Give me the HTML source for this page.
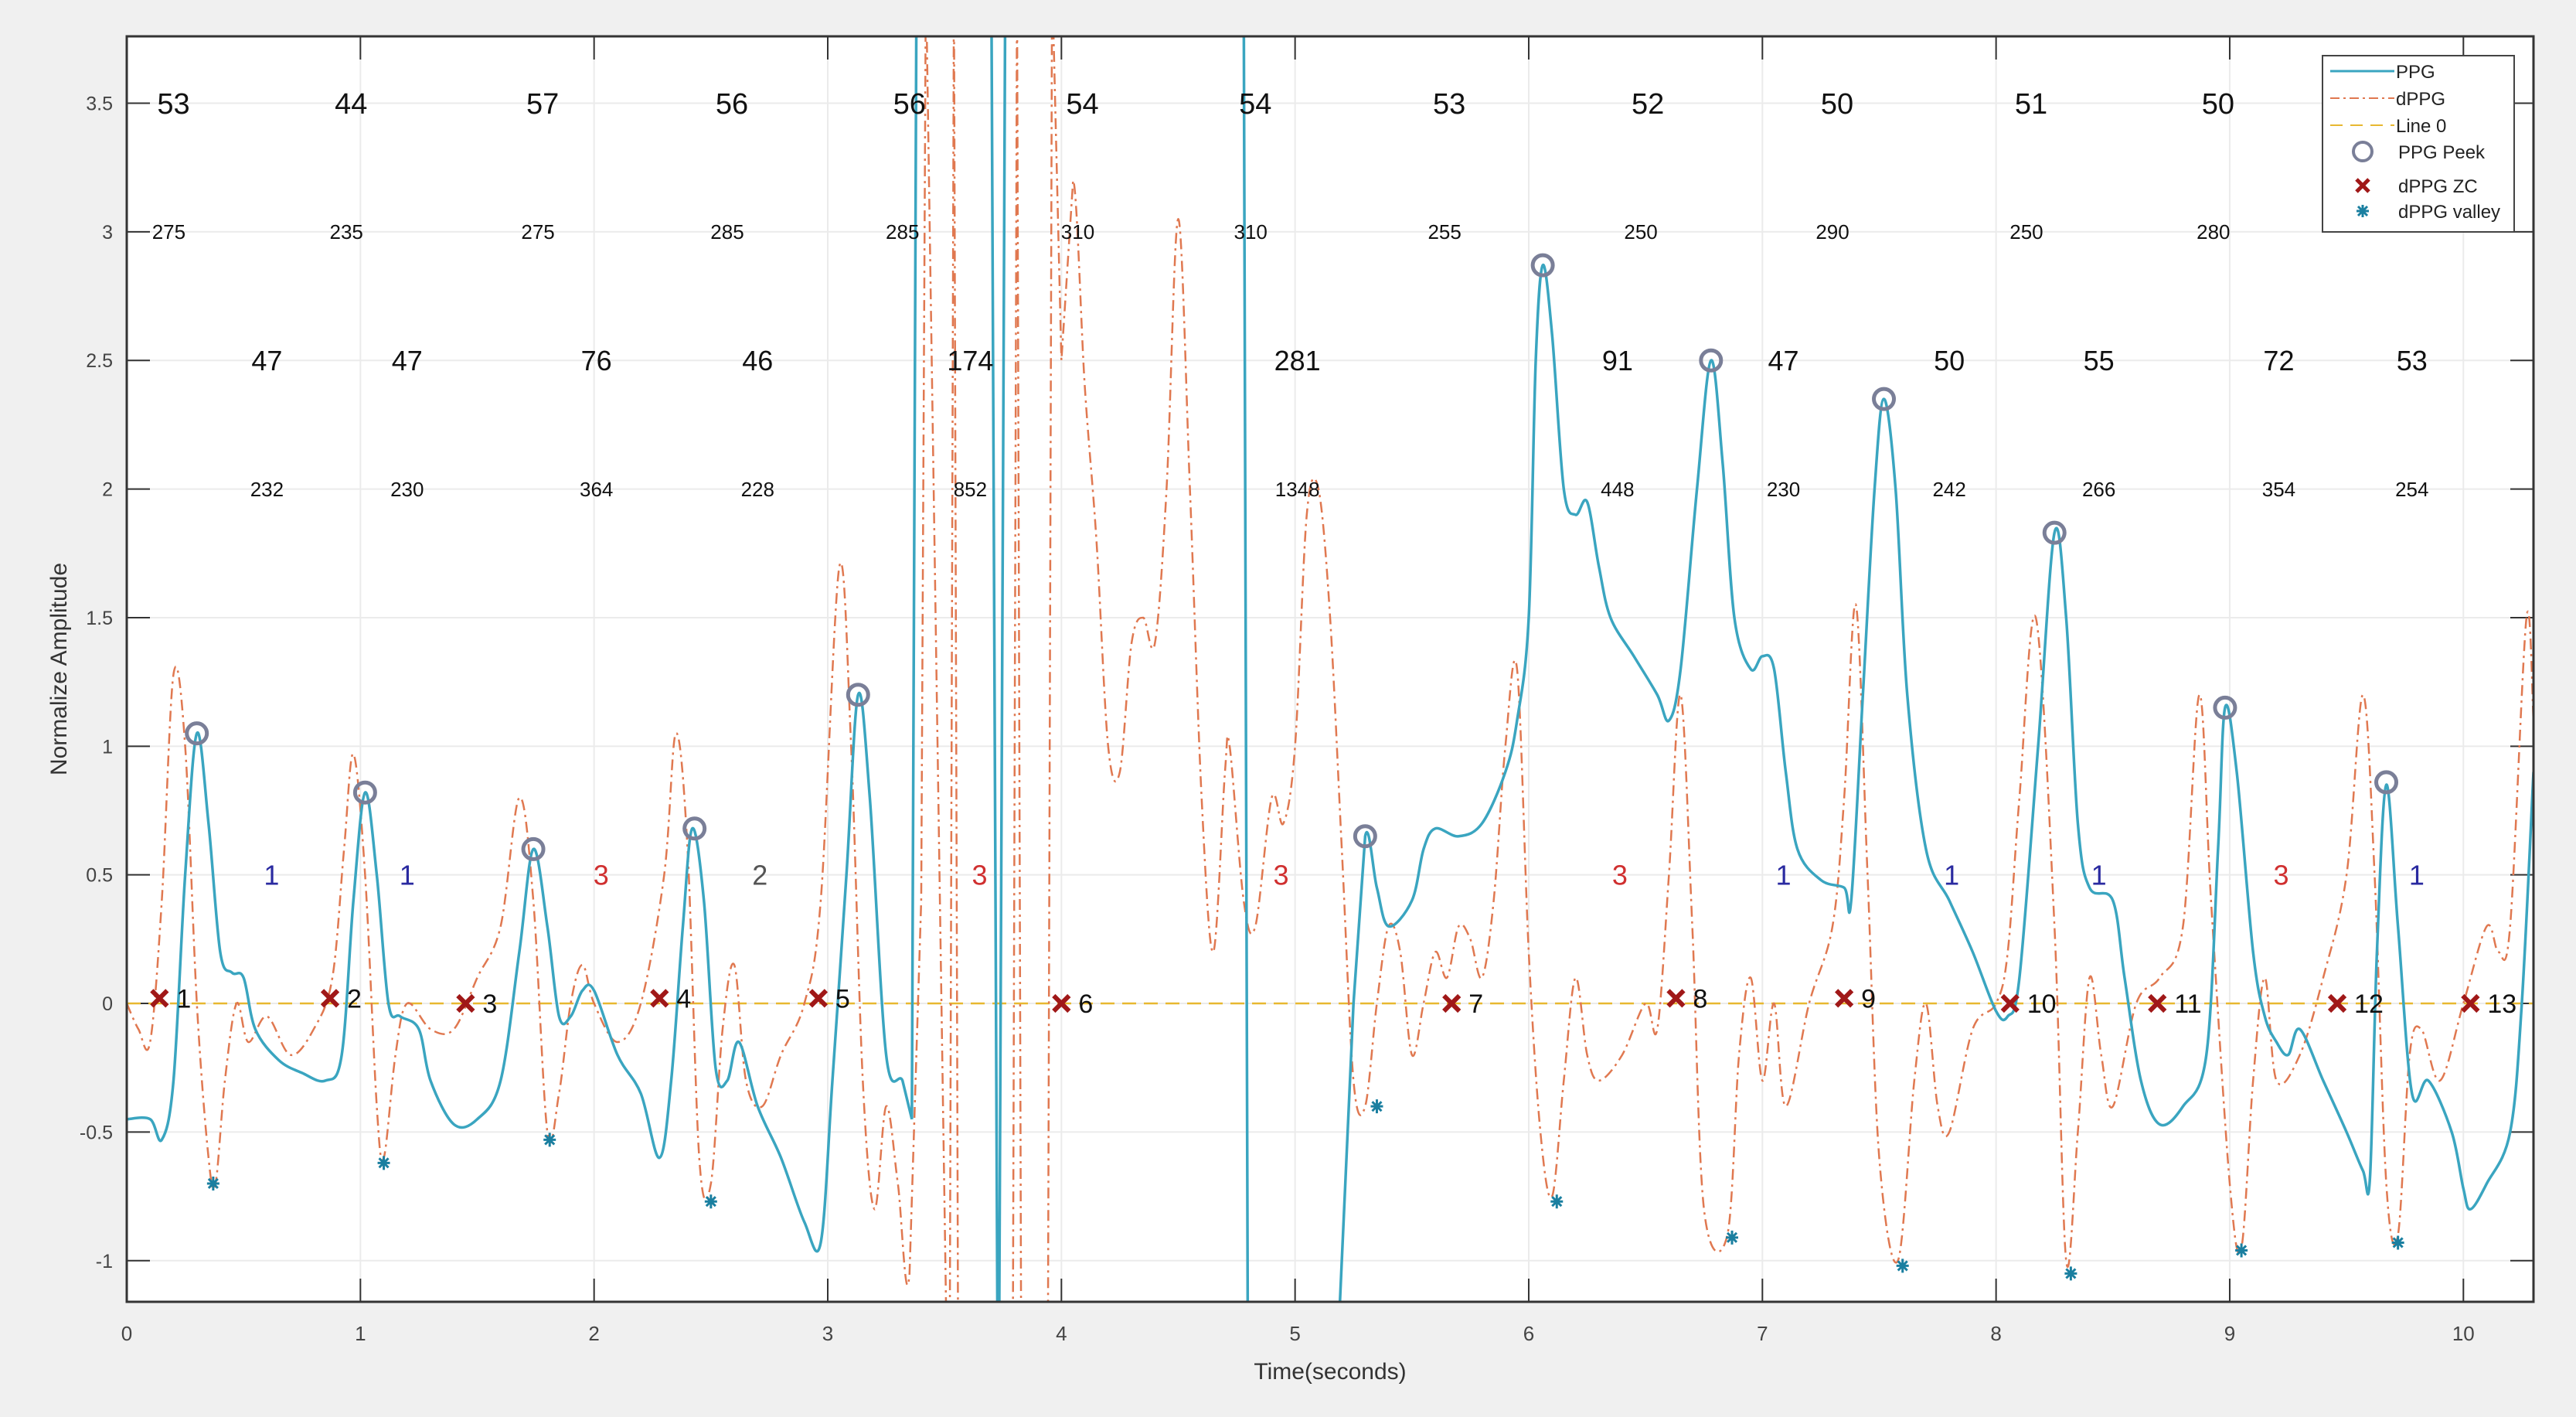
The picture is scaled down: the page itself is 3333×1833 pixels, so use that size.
<!DOCTYPE html>
<html><head><meta charset="utf-8"><style>
html,body{margin:0;padding:0;width:3333px;height:1833px;overflow:hidden;background:#f0f0f0;}
svg{display:block;overflow:hidden;font-family:"Liberation Sans",sans-serif;}
</style></head><body>
<svg id="c" width="3333" height="1833"></svg>
<script>
const ppgT=[0,0.1,0.15,0.2,0.25,0.3,0.35,0.4,0.45,0.5,0.55,0.65,0.75,0.85,0.92,0.97,1.02,1.07,1.12,1.17,1.25,1.3,1.4,1.5,1.6,1.68,1.74,1.8,1.85,1.9,1.95,2.0,2.1,2.2,2.28,2.33,2.38,2.42,2.47,2.52,2.57,2.62,2.7,2.8,2.9,2.97,3.02,3.08,3.13,3.18,3.25,3.32,3.36,3.38,3.7,3.73,3.76,4.78,4.8,4.82,5.19,5.25,5.3,5.35,5.4,5.5,5.55,5.6,5.7,5.8,5.9,5.95,6.0,6.03,6.06,6.1,6.15,6.2,6.25,6.3,6.35,6.45,6.55,6.6,6.65,6.72,6.78,6.83,6.88,6.95,7.0,7.05,7.1,7.15,7.25,7.35,7.38,7.43,7.48,7.52,7.57,7.62,7.7,7.8,7.9,8.0,8.05,8.1,8.18,8.25,8.3,8.35,8.4,8.5,8.55,8.62,8.7,8.8,8.9,8.95,8.98,9.03,9.1,9.15,9.2,9.25,9.3,9.4,9.5,9.57,9.6,9.63,9.67,9.72,9.78,9.85,9.95,10.0,10.03,10.1,10.2,10.25,10.3];
const ppgV=[-0.45,-0.45,-0.53,-0.3,0.5,1.05,0.7,0.2,0.12,0.1,-0.1,-0.22,-0.27,-0.3,-0.2,0.4,0.82,0.5,0.0,-0.05,-0.1,-0.3,-0.47,-0.45,-0.3,0.2,0.6,0.3,-0.05,-0.05,0.05,0.05,-0.2,-0.35,-0.6,-0.3,0.3,0.68,0.4,-0.25,-0.3,-0.15,-0.4,-0.6,-0.85,-0.93,-0.3,0.5,1.2,0.8,-0.2,-0.3,-0.45,4,4,-2,4,4,-2,-2,-1.2,0.0,0.65,0.45,0.3,0.4,0.6,0.68,0.65,0.7,0.9,1.1,1.5,2.5,2.87,2.6,2.0,1.9,1.95,1.7,1.5,1.35,1.2,1.1,1.3,2.0,2.5,2.1,1.5,1.3,1.35,1.3,0.9,0.6,0.48,0.45,0.4,1.2,2.0,2.35,2.0,1.2,0.6,0.4,0.2,-0.03,-0.05,0.1,1.0,1.83,1.5,0.7,0.45,0.4,0.1,-0.3,-0.47,-0.4,-0.2,0.6,1.15,0.9,0.2,-0.05,-0.15,-0.2,-0.1,-0.3,-0.5,-0.65,-0.68,0.2,0.85,0.3,-0.35,-0.3,-0.5,-0.72,-0.8,-0.7,-0.5,0.0,0.9];
const dT=[0,0.05,0.1,0.15,0.2,0.25,0.3,0.35,0.38,0.42,0.47,0.52,0.6,0.7,0.8,0.88,0.93,0.97,1.02,1.07,1.1,1.15,1.2,1.3,1.4,1.5,1.6,1.68,1.74,1.8,1.85,1.9,1.95,2.0,2.1,2.2,2.3,2.35,2.4,2.45,2.5,2.55,2.6,2.65,2.72,2.8,2.9,2.97,3.05,3.1,3.15,3.2,3.25,3.3,3.35,3.4,3.42,3.52,3.54,3.56,3.79,3.81,3.83,3.94,3.96,4.0,4.05,4.1,4.15,4.2,4.25,4.3,4.35,4.4,4.45,4.5,4.55,4.6,4.65,4.7,4.72,4.78,4.83,4.9,4.95,5.0,5.05,5.1,5.15,5.2,5.25,5.3,5.35,5.4,5.45,5.5,5.55,5.6,5.65,5.7,5.75,5.8,5.85,5.9,5.95,6.0,6.05,6.1,6.15,6.2,6.25,6.3,6.4,6.5,6.55,6.6,6.65,6.7,6.75,6.85,6.9,6.95,7.0,7.05,7.1,7.2,7.3,7.35,7.4,7.45,7.5,7.58,7.65,7.7,7.75,7.8,7.9,8.0,8.05,8.1,8.17,8.25,8.3,8.35,8.4,8.45,8.5,8.6,8.7,8.8,8.87,8.92,9.0,9.05,9.1,9.15,9.2,9.3,9.4,9.5,9.57,9.62,9.67,9.72,9.77,9.82,9.9,10.0,10.1,10.15,10.2,10.27,10.3];
const dV=[0.0,-0.1,-0.15,0.4,1.28,1.0,0.0,-0.6,-0.7,-0.3,0.0,-0.15,-0.05,-0.2,-0.1,0.1,0.6,0.97,0.5,-0.4,-0.6,-0.2,0.0,-0.1,-0.1,0.1,0.3,0.8,0.4,-0.5,-0.35,0.0,0.15,0.0,-0.15,0.0,0.5,1.05,0.6,-0.6,-0.7,-0.1,0.15,-0.3,-0.4,-0.2,0.0,0.4,1.7,1.0,-0.3,-0.8,-0.4,-0.7,-1.05,0.4,4,-2,4,-2,-2,4,-2,-2,4,2.5,3.2,2.4,1.8,1.0,0.9,1.4,1.5,1.4,2.0,3.05,2.0,0.8,0.2,0.9,1.0,0.4,0.3,0.8,0.7,1.0,1.9,2.0,1.5,0.6,-0.3,-0.4,0.0,0.3,0.2,-0.2,0.0,0.2,0.1,0.3,0.25,0.1,0.4,1.0,1.3,0.2,-0.5,-0.75,-0.3,0.1,-0.2,-0.3,-0.2,0.0,-0.1,0.5,1.2,0.3,-0.8,-0.9,-0.2,0.1,-0.3,0.0,-0.4,0.0,0.3,0.8,1.55,0.5,-0.6,-1.0,-0.3,0.0,-0.4,-0.5,-0.1,0.0,0.2,0.8,1.5,0.3,-1.0,-0.5,0.1,-0.2,-0.4,0.0,0.1,0.3,1.2,0.4,-0.7,-0.95,-0.3,0.1,-0.3,-0.2,0.1,0.5,1.2,0.5,-0.7,-0.9,-0.2,-0.1,-0.3,0.0,0.3,0.2,0.3,1.5,1.1];
const peakT=[0.3,1.02,1.74,2.43,3.13,5.3,6.06,6.78,7.52,8.25,8.98,9.67];
const peakV=[1.05,0.82,0.6,0.68,1.2,0.65,2.87,2.5,2.35,1.83,1.15,0.86];
const zcT=[0.14,0.87,1.45,2.28,2.96,4.0,5.67,6.63,7.35,8.06,8.69,9.46,10.03];
const zcV=[0.02,0.02,0.0,0.02,0.02,0.0,0.0,0.02,0.02,0.0,0.0,0.0,0.0];
const valT=[0.37,1.1,1.81,2.5,5.35,6.12,6.87,7.6,8.32,9.05,9.72];
const valV=[-0.7,-0.62,-0.53,-0.77,-0.4,-0.77,-0.91,-1.02,-1.05,-0.96,-0.93];
const hrT=[0.2,0.96,1.78,2.59,3.35,4.09,4.83,5.66,6.51,7.32,8.15,8.95];
const hrLabels=["53","44","57","56","56","54","54","53","52","50","51","50"];
const rrT=[0.18,0.94,1.76,2.57,3.32,4.07,4.81,5.64,6.48,7.3,8.13,8.93];
const rrLabels=["275","235","275","285","285","310","310","255","250","290","250","280"];
const midT=[0.6,1.2,2.01,2.7,3.61,5.01,6.38,7.09,7.8,8.44,9.21,9.78];
const midLabels=["47","47","76","46","174","281","91","47","50","55","72","53"];
const lowLabels=["232","230","364","228","852","1348","448","230","242","266","354","254"];
const clsT=[0.62,1.2,2.03,2.71,3.65,4.94,6.39,7.09,7.81,8.44,9.22,9.8];
const clsLabels=["1","1","3","2","3","3","3","1","1","1","3","1"];
const xTicks=[0,1,2,3,4,5,6,7,8,9,10];
const yTicks=[-1,-0.5,0,0.5,1,1.5,2,2.5,3,3.5];

const L=164,R=3278,T=47,B=1684,xmin=0,xmax=10.3,ymin=-1.16,ymax=3.76;
const X=t=>L+(t-xmin)/(xmax-xmin)*(R-L);
const Y=v=>B-(v-ymin)/(ymax-ymin)*(B-T);
const svg=document.getElementById('c');const NS='http://www.w3.org/2000/svg';
function mk(tag,a,p){const e=document.createElementNS(NS,tag);for(const k in a)e.setAttribute(k,a[k]);(p||svg).appendChild(e);return e;}
function smooth(ts,vs){const p=ts.map((t,i)=>[X(t),Y(vs[i])]);const out=vs.map(v=>v>ymax||v<ymin);let d='M'+p[0][0]+','+p[0][1];
 for(let i=0;i<p.length-1;i++){const a=Math.max(0,i-1),b=Math.min(p.length-1,i+2);
  const p0=p[a],p1=p[i],p2=p[i+1],p3=p[b];
  if(out[a]||out[i]||out[i+1]||out[b]){d+=`L${p2[0]},${p2[1]}`;continue;}
  const k=1/6;d+=`C${p1[0]+(p2[0]-p0[0])*k},${p1[1]+(p2[1]-p0[1])*k} ${p2[0]-(p3[0]-p1[0])*k},${p2[1]-(p3[1]-p1[1])*k} ${p2[0]},${p2[1]}`;}
 return d;}
mk('rect',{x:0,y:0,width:3333,height:1833,fill:'#f0f0f0'});
const plot=mk('rect',{x:L,y:T,width:R-L,height:B-T,fill:'#fff'});


const defs=mk('defs',{});const cp=mk('clipPath',{id:'cp'},defs);mk('rect',{x:L,y:T,width:R-L,height:B-T},cp);
xTicks.forEach(t=>{mk('line',{x1:X(t),x2:X(t),y1:T,y2:B,stroke:'#ebebeb','stroke-width':2});
 const tx=mk('text',{x:X(t),y:B+50,'font-size':26,fill:'#444','text-anchor':'middle'});tx.textContent=t;
 
 
 mk('line',{x1:X(t),x2:X(t),y1:B,y2:B-30,stroke:'#333','stroke-width':2});mk('line',{x1:X(t),x2:X(t),y1:T,y2:T+30,stroke:'#333','stroke-width':2});});
yTicks.forEach(v=>{mk('line',{x1:L,x2:R,y1:Y(v),y2:Y(v),stroke:'#ebebeb','stroke-width':2});
 const tx=mk('text',{x:L-18,y:Y(v)+9,'font-size':25,fill:'#444','text-anchor':'end'});tx.textContent=v;
 
 
 mk('line',{x1:L,x2:L+30,y1:Y(v),y2:Y(v),stroke:'#333','stroke-width':2});mk('line',{x1:R,x2:R-30,y1:Y(v),y2:Y(v),stroke:'#333','stroke-width':2});});
const g=mk('g',{'clip-path':'url(#cp)'});
const l0=mk('line',{x1:L,x2:R,y1:Y(0),y2:Y(0),stroke:'#e8b830','stroke-width':2.5,'stroke-dasharray':'18 10'},g);


const dp=mk('path',{d:smooth(dT,dV),fill:'none',stroke:'#e07850','stroke-width':2.5,'stroke-dasharray':'14 6 3 6'},g);


const pp=mk('path',{d:smooth(ppgT,ppgV),fill:'none',stroke:'#3aa5c0','stroke-width':3.5},g);


mk('rect',{x:L,y:T,width:R-L,height:B-T,fill:'none',stroke:'#333','stroke-width':3});
peakT.forEach((t,i)=>{const c=mk('circle',{cx:X(t),cy:Y(peakV[i]),r:13,fill:'none',stroke:'#7a7f98','stroke-width':5});
 
 });
zcT.forEach((t,i)=>{const x=X(t),y=Y(zcV[i]);const p=mk('path',{d:`M${x-10},${y-10}L${x+10},${y+10}M${x-10},${y+10}L${x+10},${y-10}`,stroke:'#a01818','stroke-width':6});
 
 
 const tx=mk('text',{x:x+22,y:y+12,'font-size':34,fill:'#111'});tx.textContent=i+1;
 
 });
valT.forEach((t,i)=>{const x=X(t),y=Y(valV[i]);const p=mk('path',{d:`M${x-8},${y}L${x+8},${y}M${x},${y-9}L${x},${y+9}M${x-6},${y-6}L${x+6},${y+6}M${x-6},${y+6}L${x+6},${y-6}`,stroke:'#1a7fa0','stroke-width':3});
 
 });
function labels(ts,ls,v,fs,name,colorFn){ts.forEach((t,i)=>{const tx=mk('text',{x:X(t),y:Y(v)+fs*0.36,'font-size':fs,fill:colorFn?colorFn(ls[i]):'#111','text-anchor':'middle'});tx.textContent=ls[i];
 
 });}
labels(hrT,hrLabels,3.5,38,'hr-label');
labels(rrT,rrLabels,3.0,26,'interval-label');
labels(midT,midLabels,2.5,36,'mid-label');
labels(midT,lowLabels,2.0,26,'low-label');
labels(clsT,clsLabels,0.5,36,'class-label',s=>s==='1'?'#2a2aa0':s==='3'?'#d03030':'#555');
const xl=mk('text',{x:(L+R)/2,y:B+100,'font-size':30,fill:'#333','text-anchor':'middle'});xl.textContent='Time(seconds)';


const yl=mk('text',{x:0,y:0,'font-size':30,fill:'#333','text-anchor':'middle',transform:`translate(86,${(T+B)/2}) rotate(-90)`});yl.textContent='Normalize Amplitude';


const lg=mk('g',{});


mk('rect',{x:3005,y:72,width:248,height:228,fill:'#fff',stroke:'#444','stroke-width':2},lg);
const entries=[['PPG',92],['dPPG',127],['Line 0',162],['PPG Peek',196],['dPPG ZC',240],['dPPG valley',273]];
mk('line',{x1:3015,x2:3098,y1:92,y2:92,stroke:'#3aa5c0','stroke-width':3},lg);
mk('line',{x1:3015,x2:3098,y1:127,y2:127,stroke:'#e07850','stroke-width':2,'stroke-dasharray':'12 5 3 5'},lg);
mk('line',{x1:3015,x2:3098,y1:162,y2:162,stroke:'#e8b830','stroke-width':2,'stroke-dasharray':'16 10'},lg);
mk('circle',{cx:3057,cy:196,r:12,fill:'none',stroke:'#7a7f98','stroke-width':4},lg);
mk('path',{d:'M3049,232L3065,248M3049,248L3065,232',stroke:'#a01818','stroke-width':5},lg);
mk('path',{d:'M3049,273L3065,273M3057,265L3057,281M3051,267L3063,279M3051,279L3063,267',stroke:'#1a7fa0','stroke-width':3},lg);
entries.forEach(([s,y],i)=>{const tx=mk('text',{x:i<3?3100:3103,y:y+9,'font-size':24,fill:'#222'},lg);tx.textContent=s;
 
 });
</script>
</body></html>
